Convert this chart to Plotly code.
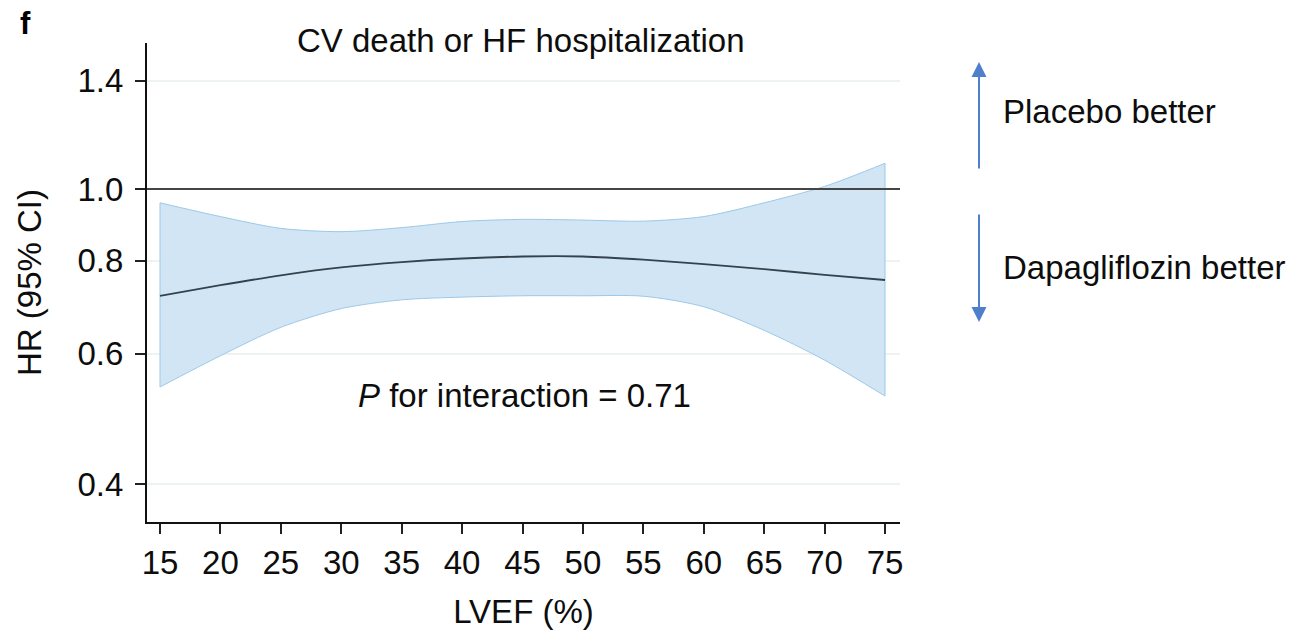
import plotly.graph_objects as go

# LVEF grid (%) and hazard ratios with 95% confidence limits
lvef = [15, 20, 25, 30, 35, 40, 45, 50, 55, 60, 65, 70, 75]
hr = [0.718, 0.742, 0.765, 0.784, 0.797, 0.806, 0.811, 0.811, 0.803, 0.792, 0.780, 0.766, 0.754]
hr_lower = [0.541, 0.596, 0.651, 0.690, 0.709, 0.715, 0.718, 0.718, 0.717, 0.694, 0.645, 0.588, 0.526]
hr_upper = [0.958, 0.918, 0.885, 0.876, 0.887, 0.904, 0.910, 0.908, 0.905, 0.918, 0.958, 1.008, 1.083]

x_ticks = [15, 20, 25, 30, 35, 40, 45, 50, 55, 60, 65, 70, 75]
y_ticks = [0.4, 0.6, 0.8, 1.0, 1.4]
y_tick_text = ["0.4", "0.6", "0.8", "1.0", "1.4"]

FONT = "Liberation Sans, Arial, Helvetica, sans-serif"
FS = 33
TXT = "#0d0d0d"
BAND_FILL = "rgba(207,228,244,0.95)"
BAND_EDGE = "#9cc9e8"
ARROW = "#4f7fcc"

fig = go.Figure()

# confidence band
fig.add_trace(go.Scatter(x=lvef, y=hr_lower, mode="lines",
                         line=dict(color=BAND_EDGE, width=1, shape="spline", smoothing=0.8),
                         hoverinfo="skip", showlegend=False))
fig.add_trace(go.Scatter(x=lvef, y=hr_upper, mode="lines", fill="tonexty",
                         fillcolor=BAND_FILL,
                         line=dict(color=BAND_EDGE, width=1, shape="spline", smoothing=0.8),
                         hoverinfo="skip", showlegend=False))
# closing edges of the band at both ends of the LVEF range
for i in (0, -1):
    fig.add_trace(go.Scatter(x=[lvef[i], lvef[i]], y=[hr_lower[i], hr_upper[i]], mode="lines",
                             line=dict(color=BAND_EDGE, width=1),
                             hoverinfo="skip", showlegend=False))

# point estimate
fig.add_trace(go.Scatter(x=lvef, y=hr, mode="lines",
                         line=dict(color="#34424d", width=1.8, shape="spline", smoothing=0.8),
                         showlegend=False))

# no-effect reference line at HR = 1
fig.add_shape(type="line", xref="paper", x0=0, x1=1, yref="y", y0=1.0, y1=1.0,
              line=dict(color="#454545", width=2))

fig.update_layout(
    width=1311, height=635,
    margin=dict(l=147, r=411, t=43, b=113),
    paper_bgcolor="white", plot_bgcolor="white",
    font=dict(family=FONT, size=FS, color=TXT),
    showlegend=False,
)

fig.update_xaxes(
    range=[13.924, 76.24],
    tickvals=x_ticks,
    ticks="outside", ticklen=10, tickwidth=2, tickcolor="#222",
    showline=True, linecolor="#111", linewidth=2,
    showgrid=False, zeroline=False,
    tickfont=dict(size=FS, family=FONT, color=TXT),
    title=dict(text="LVEF (%)", font=dict(size=FS, family=FONT, color=TXT), standoff=20),
)
fig.update_yaxes(
    type="log",
    range=[-0.4487, 0.1967],
    tickvals=y_ticks, ticktext=y_tick_text,
    ticks="outside", ticklen=10, tickwidth=2, tickcolor="#222",
    showline=True, linecolor="#111", linewidth=2,
    showgrid=True, gridcolor="#edf4f0", gridwidth=2,
    zeroline=False,
    tickfont=dict(size=FS, family=FONT, color=TXT),
    ticklabelstandoff=5,
    title=dict(text="HR (95% CI)", font=dict(size=FS, family=FONT, color=TXT), standoff=26),
)

annotations = [
    dict(text="<b>f</b>", x=-0.162, y=1.040, xref="paper", yref="paper",
         xanchor="center", yanchor="middle", showarrow=False, font=dict(size=31, color="#000")),
    dict(text="CV death or HF hospitalization", x=0.497, y=1.006, xref="paper", yref="paper",
         xanchor="center", yanchor="middle", showarrow=False),
    dict(text="<i>P</i> for interaction = 0.71", x=0.277, y=0.265, xref="paper", yref="paper",
         xanchor="left", yanchor="middle", showarrow=False),
    dict(text="Placebo better", x=1.1335, y=0.856, xref="paper", yref="paper",
         xanchor="left", yanchor="middle", showarrow=False),
    dict(text="Dapagliflozin better", x=1.1335, y=0.532, xref="paper", yref="paper",
         xanchor="left", yanchor="middle", showarrow=False),
    # direction arrows
    dict(text="", x=1.1049, y=0.9603, xref="paper", yref="paper",
         ax=0, ay=108, axref="pixel", ayref="pixel",
         showarrow=True, arrowhead=2, arrowsize=1.5, arrowwidth=2, arrowcolor=ARROW),
    dict(text="", x=1.1049, y=0.4175, xref="paper", yref="paper",
         ax=0, ay=-109, axref="pixel", ayref="pixel",
         showarrow=True, arrowhead=2, arrowsize=1.5, arrowwidth=2, arrowcolor=ARROW),
]
fig.update_layout(annotations=annotations)

fig.write_html("out.html")
